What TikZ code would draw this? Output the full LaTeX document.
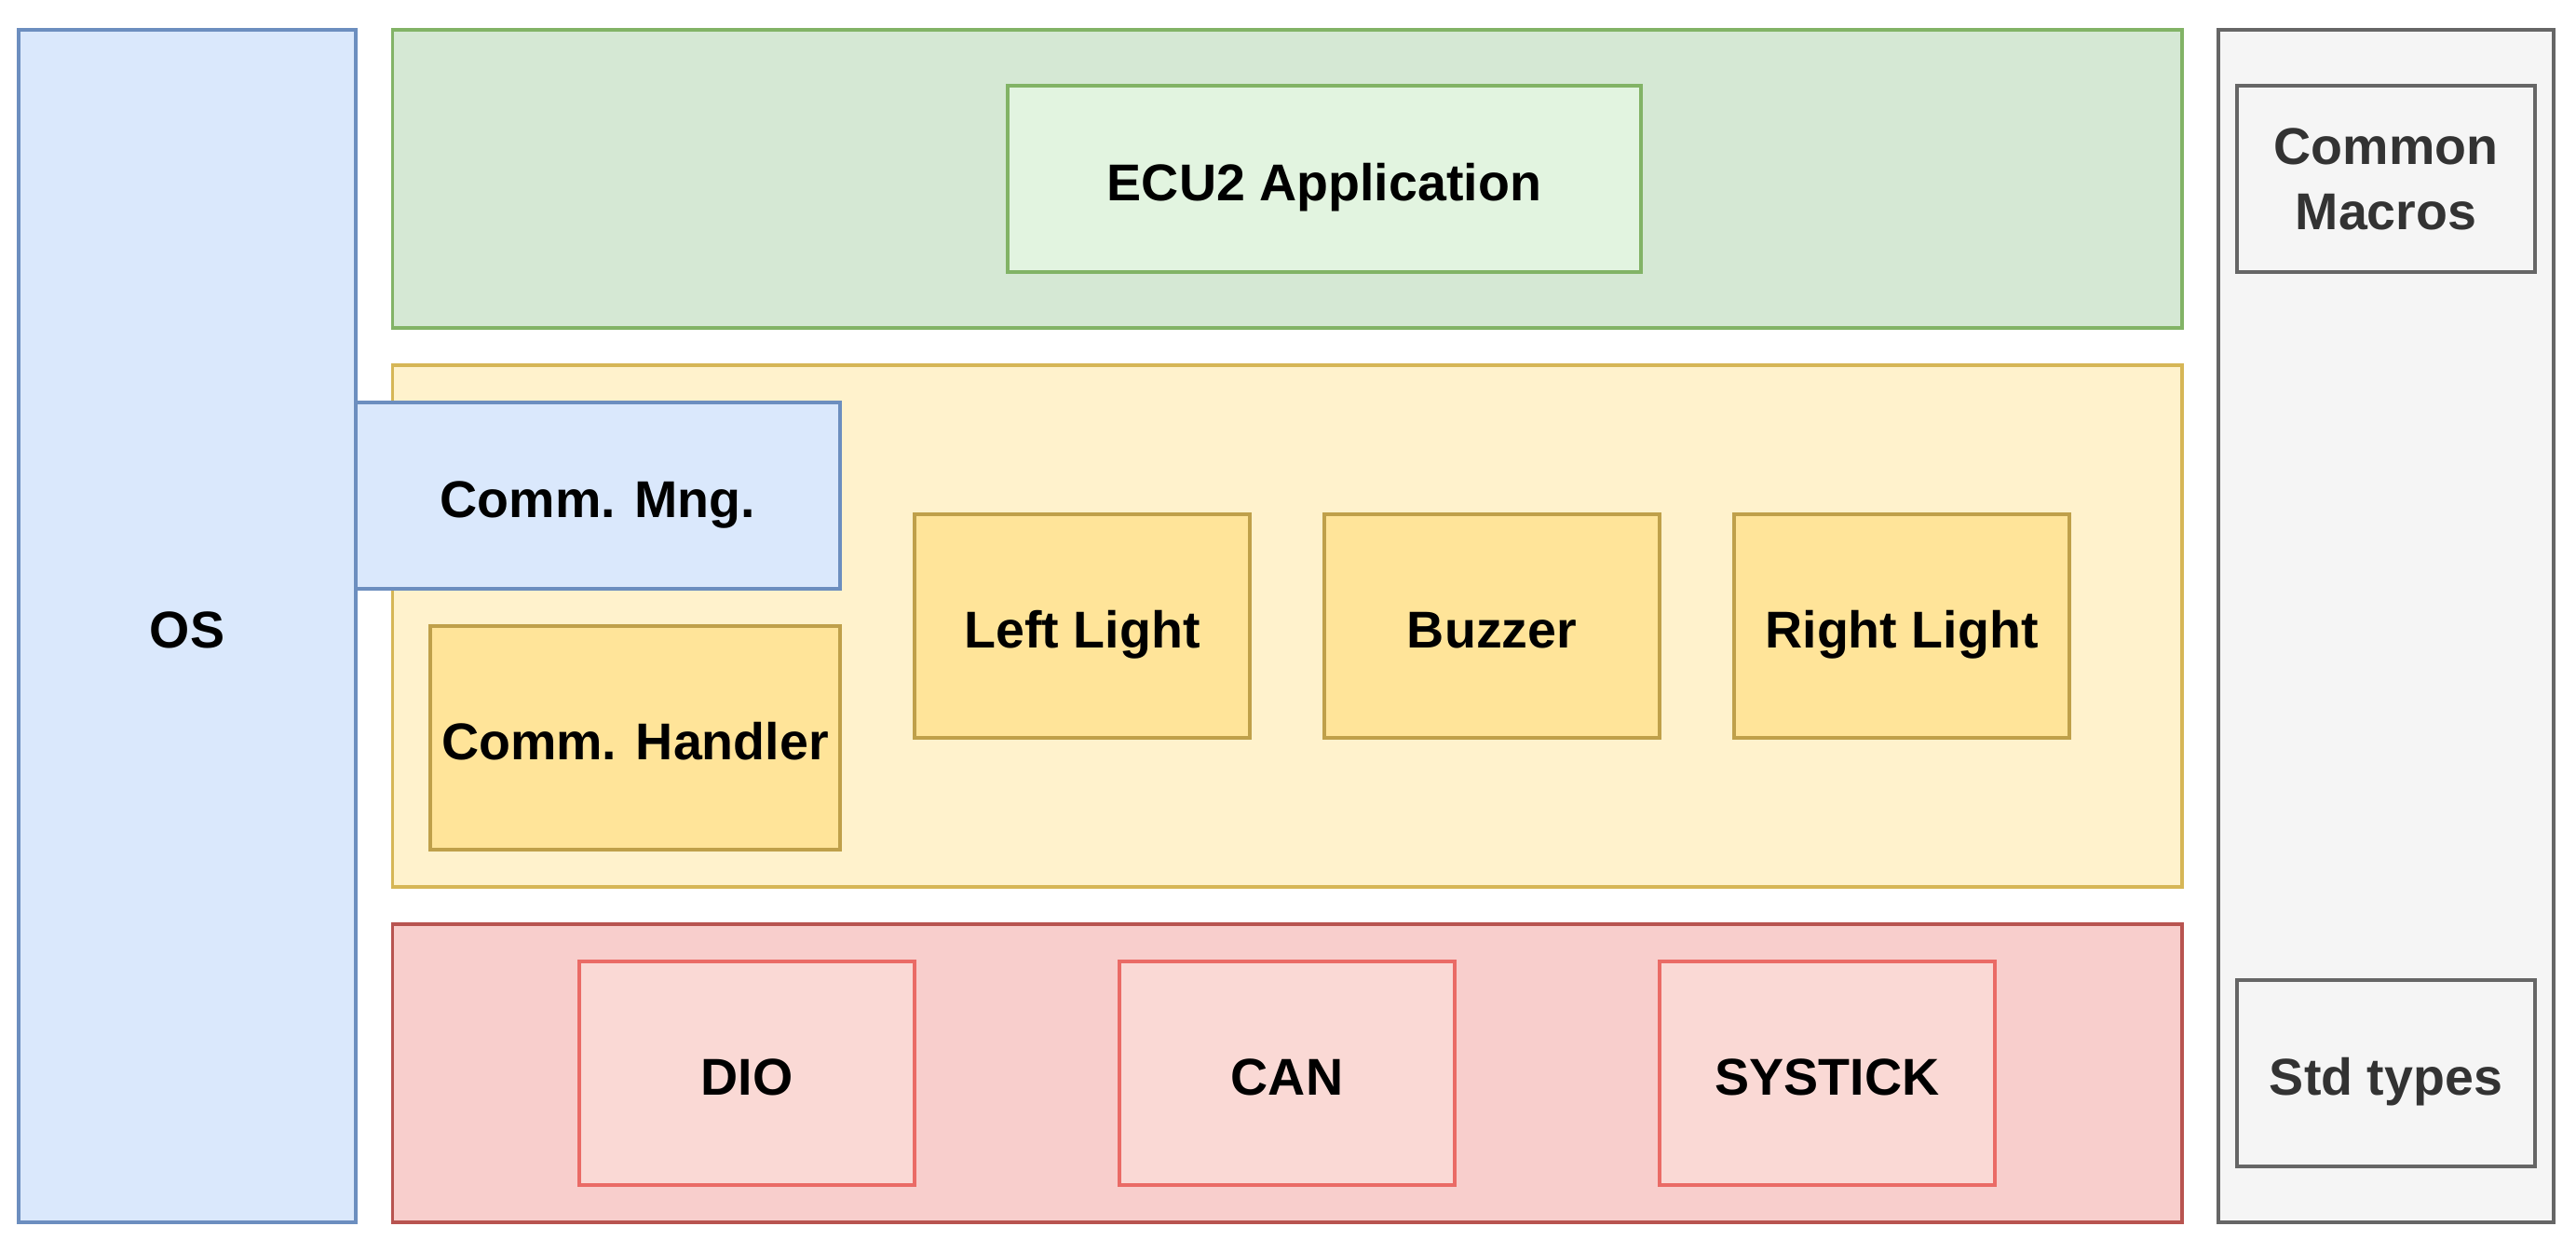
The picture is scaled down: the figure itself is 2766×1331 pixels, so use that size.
\documentclass[tikz,border=0pt]{standalone}
\usepackage{fontspec}
\setmainfont{Liberation Sans}
\begin{document}
\definecolor{bluefill}{HTML}{DAE8FC}
\definecolor{bluedraw}{HTML}{6C8EBF}
\definecolor{greenfill}{HTML}{D5E8D4}
\definecolor{greendraw}{HTML}{82B366}
\definecolor{appfill}{HTML}{E2F4E0}
\definecolor{yellowfill}{HTML}{FFF2CC}
\definecolor{yellowdraw}{HTML}{D6B656}
\definecolor{modfill}{HTML}{FFE499}
\definecolor{moddraw}{HTML}{BFA04A}
\definecolor{redfill}{HTML}{F8CECC}
\definecolor{reddraw}{HTML}{B85450}
\definecolor{drvfill}{HTML}{FAD9D5}
\definecolor{drvdraw}{HTML}{EA6B66}
\definecolor{grayfill}{HTML}{F5F5F5}
\definecolor{graydraw}{HTML}{666666}
\definecolor{graytext}{HTML}{333333}
\begin{tikzpicture}[x=0.01cm,y=-0.01cm,
  blk/.style={rectangle, line width=1.1pt, inner sep=0pt,
    font=\bfseries\fontsize{15.8}{19.9}\selectfont, align=center},
  oneline/.style={text height=13.3pt, text depth=0pt},
  osbox/.style={blk, oneline, fill=bluefill, draw=bluedraw},
  applayer/.style={blk, fill=greenfill, draw=greendraw},
  appbox/.style={blk, oneline, fill=appfill, draw=greendraw},
  svclayer/.style={blk, fill=yellowfill, draw=yellowdraw},
  modbox/.style={blk, oneline, fill=modfill, draw=moddraw},
  hwlayer/.style={blk, fill=redfill, draw=reddraw},
  drvbox/.style={blk, oneline, fill=drvfill, draw=drvdraw},
  comlayer/.style={blk, fill=grayfill, draw=graydraw},
  combox/.style={blk, fill=grayfill, draw=graydraw, text=graytext}]
  % canvas
  \path[use as bounding box, fill=white] (0,0) rectangle (2766,1331);

  % operating system column
  \node[osbox, minimum width=3.62cm, minimum height=12.80cm] (os) at (201,672) {OS};

  % layers
  \node[applayer, minimum width=19.20cm, minimum height=3.20cm] (app) at (1382,192) {};
  \node[svclayer, minimum width=19.20cm, minimum height=5.60cm] (svc) at (1382,672) {};
  \node[hwlayer, minimum width=19.20cm, minimum height=3.20cm] (hw) at (1382,1152) {};
  \node[comlayer, minimum width=3.60cm, minimum height=12.80cm] (com) at (2562,672) {};

  % application
  \node[appbox, minimum width=6.80cm, minimum height=2.00cm] (ecu) at (1422,192) {ECU2 Application};

  % services
  \node[modbox, minimum width=4.40cm, minimum height=2.40cm] (handler) at (682,792) {Comm. Handler};
  \node[modbox, minimum width=3.60cm, minimum height=2.40cm] (left) at (1162,672) {Left Light};
  \node[modbox, minimum width=3.60cm, minimum height=2.40cm] (buzzer) at (1602,672) {Buzzer};
  \node[modbox, minimum width=3.60cm, minimum height=2.40cm] (right) at (2042,672) {Right Light};
  \node[osbox, minimum width=5.20cm, minimum height=2.00cm] (mng) at (642,532) {Comm. Mng.};

  % drivers
  \node[drvbox, minimum width=3.60cm, minimum height=2.40cm] (dio) at (802,1152) {DIO};
  \node[drvbox, minimum width=3.60cm, minimum height=2.40cm] (can) at (1382,1152) {CAN};
  \node[drvbox, minimum width=3.60cm, minimum height=2.40cm] (systick) at (1962,1152) {SYSTICK};

  % common
  \node[combox, minimum width=3.20cm, minimum height=2.00cm] (macros) at (2562,192) {Common\\Macros};
  \node[combox, oneline, minimum width=3.20cm, minimum height=2.00cm] (types) at (2562,1152) {Std types};
\end{tikzpicture}
\end{document}
